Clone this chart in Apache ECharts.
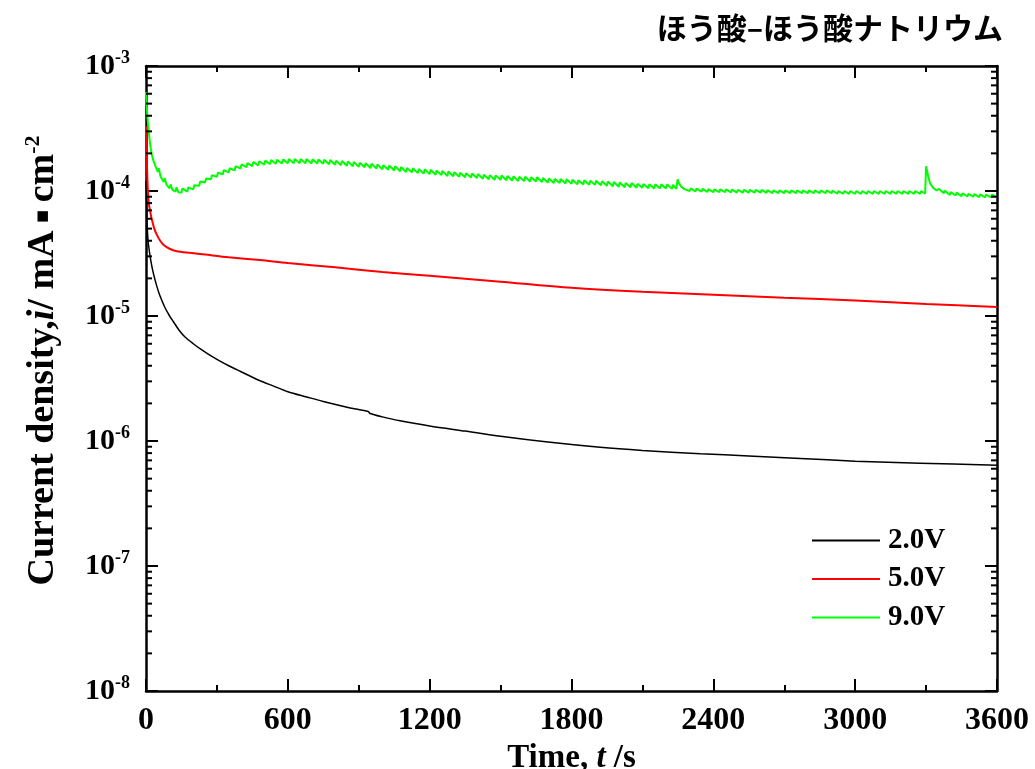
<!DOCTYPE html>
<html>
<head>
<meta charset="utf-8">
<script src="https://cdn.jsdelivr.net/npm/echarts@6/dist/echarts.min.js"></script>
<style>
html,body{margin:0;padding:0;background:#fff;}
#chart{width:1035px;height:769px;}
</style>
</head>
<body>
<div id="chart"></div>
<script>
// ---- data (time in s, current density in mA/cm^2) ----
const seriesNames = ['2.0V', '5.0V', '9.0V'];
const seriesColors = ['#000000', '#ff0000', '#00ff00'];

const black2V = [
  [0,1.2e-4],[2,8.5e-5],[5,5.2e-5],[10,3.8e-5],[20,2.8e-5],[31,2.2e-5],[45,1.75e-5],
  [59,1.45e-5],[80,1.17e-5],[100,1.0e-5],[116,9.0e-6],[140,7.7e-6],[165,6.8e-6],
  [200,6.0e-6],[230,5.45e-6],[260,5.0e-6],[300,4.5e-6],[350,4.0e-6],[400,3.6e-6],
  [480,3.05e-6],[540,2.75e-6],[600,2.48e-6],[680,2.25e-6],[750,2.07e-6],[864,1.84e-6],
  [940,1.72e-6],[948,1.66e-6],[1000,1.56e-6],[1075,1.45e-6],[1200,1.32e-6],
  [1350,1.2e-6],[1500,1.09e-6],[1700,9.8e-7],[1921,8.9e-7],[2100,8.4e-7],
  [2345,7.9e-7],[2550,7.6e-7],[2768,7.25e-7],[3000,6.9e-7],[3275,6.65e-7],[3600,6.4e-7]
];

const red5V = [
  [0,3.3e-4],[2,2.2e-4],[5,1.4e-4],[8,1.0e-4],[12,8.0e-5],[18,6.8e-5],[24,6.0e-5],
  [35,5.0e-5],[45,4.5e-5],[60,4.0e-5],[75,3.7e-5],[100,3.45e-5],[130,3.3e-5],
  [186,3.2e-5],[250,3.1e-5],[350,2.95e-5],[482,2.8e-5],[600,2.65e-5],[800,2.45e-5],
  [1000,2.25e-5],[1200,2.1e-5],[1500,1.88e-5],[1800,1.68e-5],[2100,1.56e-5],
  [2400,1.48e-5],[2700,1.4e-5],[3000,1.33e-5],[3300,1.25e-5],[3600,1.18e-5]
];

const green9V = [
  [0,6.2e-4],[3,4.8e-4],[6,3.9e-4],[10,3.2e-4],[15,2.6e-4],[20,2.2e-4],[25,1.95e-4],
  [30,1.78e-4],[40,1.58e-4],[50,1.42e-4],[54,1.52e-4],[62,1.30e-4],[75,1.18e-4],
  [79,1.27e-4],[87,1.12e-4],[100,1.05e-4],[104,1.13e-4],[112,1.02e-4],[125,9.9e-5],
  [129,1.07e-4],[137,9.75e-5],
  [150,9.7e-5],[154,1.05e-4],[175,9.9e-5],[179,1.07e-4],[200,1.03e-4],[204,1.11e-4],
  [225,1.10e-4],[229,1.19e-4],[250,1.17e-4],[254,1.26e-4],[275,1.24e-4],[279,1.34e-4],
  [300,1.30e-4],[304,1.40e-4],[325,1.36e-4],[329,1.47e-4],[350,1.41e-4],[354,1.52e-4],
  [375,1.46e-4],[379,1.58e-4],[400,1.51e-4],[404,1.63e-4],[425,1.55e-4],[429,1.67e-4],
  [450,1.58e-4],[454,1.71e-4],[475,1.60e-4],[479,1.73e-4],[500,1.62e-4],[504,1.75e-4],
  [525,1.64e-4],[529,1.77e-4],[550,1.65e-4],[554,1.78e-4],[575,1.66e-4],[579,1.79e-4],
  [600,1.67e-4],[604,1.80e-4],[625,1.67e-4],[629,1.80e-4],[650,1.67e-4],[654,1.80e-4],
  [675,1.67e-4],[679,1.80e-4],[700,1.66e-4],[704,1.79e-4],[725,1.66e-4],[729,1.79e-4],
  [750,1.65e-4],[754,1.78e-4],[775,1.64e-4],[779,1.77e-4],[800,1.62e-4],[804,1.75e-4],
  [825,1.61e-4],[829,1.74e-4],[850,1.59e-4],[854,1.72e-4],[875,1.58e-4],[879,1.71e-4],
  [900,1.56e-4],[904,1.68e-4],[925,1.55e-4],[929,1.67e-4],[950,1.53e-4],[954,1.65e-4],
  [975,1.51e-4],[979,1.63e-4],[1000,1.49e-4],[1004,1.61e-4],[1025,1.48e-4],[1029,1.60e-4],
  [1050,1.46e-4],[1054,1.58e-4],[1075,1.44e-4],[1079,1.56e-4],[1100,1.42e-4],[1104,1.53e-4],
  [1125,1.41e-4],[1129,1.52e-4],[1150,1.39e-4],[1154,1.50e-4],[1175,1.38e-4],[1179,1.49e-4],
  [1200,1.37e-4],[1204,1.48e-4],[1225,1.35e-4],[1229,1.46e-4],[1250,1.34e-4],[1254,1.45e-4],
  [1275,1.32e-4],[1279,1.43e-4],[1300,1.31e-4],[1304,1.41e-4],[1325,1.30e-4],[1329,1.40e-4],
  [1350,1.29e-4],[1354,1.39e-4],[1375,1.28e-4],[1379,1.38e-4],[1400,1.27e-4],[1404,1.37e-4],
  [1425,1.25e-4],[1429,1.35e-4],[1450,1.24e-4],[1454,1.34e-4],[1475,1.23e-4],[1479,1.33e-4],
  [1500,1.23e-4],[1504,1.33e-4],[1525,1.22e-4],[1529,1.32e-4],[1550,1.21e-4],[1554,1.31e-4],
  [1575,1.20e-4],[1579,1.30e-4],[1600,1.20e-4],[1604,1.30e-4],[1625,1.19e-4],[1629,1.29e-4],
  [1650,1.19e-4],[1654,1.29e-4],[1675,1.18e-4],[1679,1.27e-4],[1700,1.17e-4],[1704,1.26e-4],
  [1725,1.16e-4],[1729,1.25e-4],[1750,1.16e-4],[1754,1.25e-4],[1775,1.15e-4],[1779,1.24e-4],
  [1800,1.14e-4],[1804,1.23e-4],[1825,1.13e-4],[1829,1.22e-4],[1850,1.13e-4],[1854,1.22e-4],
  [1875,1.12e-4],[1879,1.21e-4],[1900,1.12e-4],[1904,1.21e-4],[1925,1.11e-4],[1929,1.20e-4],
  [1950,1.10e-4],[1954,1.19e-4],[1975,1.09e-4],[1979,1.18e-4],[2000,1.08e-4],[2004,1.17e-4],
  [2025,1.07e-4],[2029,1.16e-4],[2050,1.07e-4],[2054,1.16e-4],[2075,1.06e-4],[2079,1.14e-4],
  [2100,1.06e-4],[2104,1.14e-4],[2125,1.05e-4],[2129,1.13e-4],[2150,1.05e-4],[2154,1.13e-4],
  [2175,1.05e-4],[2179,1.13e-4],[2200,1.05e-4],[2204,1.13e-4],[2225,1.04e-4],[2229,1.12e-4],
  [2243,1.04e-4],[2249,1.24e-4],[2255,1.15e-4],[2265,1.08e-4],[2280,1.03e-4],
  [2300,1.00e-4],[2304,1.05e-4],[2325,9.95e-5],[2329,1.045e-4],[2350,9.9e-5],[2354,1.04e-4],
  [2375,9.85e-5],[2379,1.035e-4],[2400,9.8e-5],[2404,1.03e-4],[2425,9.8e-5],[2429,1.03e-4],
  [2450,9.8e-5],[2454,1.03e-4],[2475,9.75e-5],[2479,1.025e-4],[2500,9.7e-5],[2504,1.02e-4],
  [2525,9.7e-5],[2529,1.02e-4],[2550,9.7e-5],[2554,1.02e-4],[2575,9.7e-5],[2579,1.02e-4],
  [2600,9.7e-5],[2604,1.02e-4],[2625,9.65e-5],[2629,1.015e-4],[2650,9.6e-5],[2654,1.01e-4],
  [2675,9.6e-5],[2679,1.01e-4],[2700,9.6e-5],[2704,1.01e-4],[2725,9.6e-5],[2729,1.01e-4],
  [2750,9.6e-5],[2754,1.01e-4],[2775,9.6e-5],[2779,1.01e-4],[2800,9.6e-5],[2804,1.01e-4],
  [2825,9.6e-5],[2829,1.01e-4],[2850,9.6e-5],[2854,1.01e-4],[2875,9.6e-5],[2879,1.01e-4],
  [2900,9.6e-5],[2904,1.01e-4],[2925,9.5e-5],[2929,1.0e-4],[2950,9.5e-5],[2954,1.0e-4],
  [2975,9.5e-5],[2979,1.0e-4],[3000,9.5e-5],[3004,1.0e-4],[3025,9.5e-5],[3029,1.0e-4],
  [3050,9.5e-5],[3054,1.0e-4],[3075,9.5e-5],[3079,1.0e-4],[3100,9.5e-5],[3104,1.0e-4],
  [3125,9.5e-5],[3129,1.0e-4],[3150,9.5e-5],[3154,1.0e-4],[3175,9.5e-5],[3179,1.0e-4],
  [3200,9.5e-5],[3204,1.0e-4],[3225,9.5e-5],[3229,1.0e-4],[3250,9.5e-5],[3254,1.0e-4],
  [3275,9.5e-5],[3279,1.0e-4],[3296,9.5e-5],[3300,1.58e-4],[3304,1.45e-4],[3310,1.28e-4],
  [3318,1.14e-4],[3330,1.06e-4],[3345,1.01e-4],[3350,9.9e-5],[3354,1.04e-4],[3375,9.6e-5],
  [3379,1.01e-4],[3400,9.3e-5],[3404,9.8e-5],[3425,9.2e-5],[3429,9.7e-5],[3450,9.1e-5],
  [3454,9.6e-5],[3475,9.05e-5],[3479,9.5e-5],[3500,9.0e-5],[3504,9.45e-5],[3525,8.95e-5],
  [3529,9.4e-5],[3550,8.9e-5],[3554,9.35e-5],[3575,8.9e-5],[3579,9.35e-5],[3600,8.9e-5]
];

const xTickLabels = ['0', '600', '1200', '1800', '2400', '3000', '3600'];
const minorMultipliers = [2, 3, 4, 5, 6, 7, 8, 9];
const minorDecades = [1e-8, 1e-7, 1e-6, 1e-5, 1e-4];

// ---- chart ----
const serif = "'Liberation Serif', 'Times New Roman', serif";
const chart = echarts.init(document.getElementById('chart'), null, {renderer: 'canvas'});

const minorTickValues = [];
minorDecades.forEach(d => minorMultipliers.forEach(m => minorTickValues.push([0, m * d])));

function expLabel(v) {
  const e = Math.round(Math.log10(v));
  return '{b|10}{s|' + e + '}';
}

const option = {
  animation: false,
  backgroundColor: '#ffffff',
  title: {
    text: 'ほう酸–ほう酸ナトリウム',
    right: 27, top: 8,
    textStyle: {fontFamily: "'Noto Sans CJK JP', sans-serif", fontWeight: 'bold', fontSize: 30, color: '#000'}
  },
  grid: {left: 146, right: 38, top: 66, bottom: 78, outerBoundsMode: 'none', containLabel: false},
  legend: {
    orient: 'vertical', left: 812, top: 526, padding: 0,
    icon: 'rect', itemWidth: 68, itemHeight: 2,
    itemGap: 9.5,
    data: seriesNames,
    textStyle: {fontFamily: serif, fontWeight: 'bold', fontSize: 29, color: '#000', padding: [0, 0, 0, 3]}
  },
  xAxis: [{
    type: 'value', min: 0, max: 3600, interval: 600, position: 'bottom',
    name: '{b|Time, }{i|t}{b| /s}', nameLocation: 'middle', nameGap: 44,
    nameTextStyle: {rich: {
      b: {fontFamily: serif, fontWeight: 'bold', fontSize: 33, color: '#000'},
      i: {fontFamily: serif, fontWeight: 'bold', fontStyle: 'italic', fontSize: 33, color: '#000'}
    }},
    axisLine: {onZero: false, lineStyle: {color: '#000', width: 2.5}},
    axisTick: {inside: true, length: 12, lineStyle: {color: '#000', width: 2}},
    minorTick: {show: true, splitNumber: 2, length: 6, lineStyle: {color: '#000', width: 2}},
    splitLine: {show: false},
    axisLabel: {margin: 14, fontFamily: serif, fontWeight: 'bold', fontSize: 32, color: '#000',
      formatter: (v) => xTickLabels[Math.round(v / 600)]}
  }, {
    type: 'value', min: 0, max: 3600, interval: 600, position: 'top',
    axisLine: {onZero: false, lineStyle: {color: '#000', width: 2.5}},
    axisTick: {inside: true, length: 12, lineStyle: {color: '#000', width: 2}},
    minorTick: {show: true, splitNumber: 2, length: 6, lineStyle: {color: '#000', width: 2}},
    splitLine: {show: false},
    axisLabel: {show: false}
  }],
  yAxis: [{
    type: 'log', logBase: 10, min: 1e-8, max: 1e-3, position: 'left',
    name: '{b|Current density,}{i|i}{b|/ mA}{d|▪}{b|cm}{s|-2}',
    nameLocation: 'middle', nameRotate: 90, nameGap: 82,
    nameTextStyle: {padding: [0, 0, 0, 36], rich: {
      b: {fontFamily: serif, fontWeight: 'bold', fontSize: 38, color: '#000'},
      i: {fontFamily: serif, fontWeight: 'bold', fontStyle: 'italic', fontSize: 38, color: '#000'},
      d: {fontFamily: 'DejaVu Sans', fontWeight: 'bold', fontSize: 21, color: '#000', padding: [0, 7, 0, 7]},
      s: {fontFamily: serif, fontWeight: 'bold', fontSize: 22, color: '#000', verticalAlign: 'top', padding: [0, 0, 20, 0]}
    }},
    axisLine: {onZero: false, lineStyle: {color: '#000', width: 2.5}},
    axisTick: {inside: true, length: 12, lineStyle: {color: '#000', width: 2}},
    splitLine: {show: false},
    axisLabel: {margin: 16, formatter: expLabel, rich: {
      b: {fontFamily: serif, fontWeight: 'bold', fontSize: 30, color: '#000'},
      s: {fontFamily: serif, fontWeight: 'bold', fontSize: 18, color: '#000', verticalAlign: 'top', padding: [0, 0, 16, 0]}
    }}
  }, {
    type: 'log', logBase: 10, min: 1e-8, max: 1e-3, position: 'right',
    axisLine: {onZero: false, lineStyle: {color: '#000', width: 2.5}},
    axisTick: {inside: true, length: 12, lineStyle: {color: '#000', width: 2}},
    splitLine: {show: false},
    axisLabel: {show: false}
  }],
  series: [
    {name: seriesNames[0], type: 'line', data: black2V, symbol: 'none', smooth: 0.3,
      lineStyle: {color: seriesColors[0], width: 1.5}, itemStyle: {color: seriesColors[0]}},
    {name: seriesNames[1], type: 'line', data: red5V, symbol: 'none', smooth: 0.3,
      lineStyle: {color: seriesColors[1], width: 2}, itemStyle: {color: seriesColors[1]}},
    {name: seriesNames[2], type: 'line', data: green9V, symbol: 'none',
      lineStyle: {color: seriesColors[2], width: 2}, itemStyle: {color: seriesColors[2]}},
    {
      name: 'minorTicks', type: 'custom', silent: true, clip: false,
      data: minorTickValues, z: 5,
      renderItem: function (params, api) {
        const y = api.coord([0, api.value(1)])[1];
        const cs = params.coordSys;
        return {
          type: 'group',
          children: [
            {type: 'line', shape: {x1: cs.x, y1: y, x2: cs.x + 6, y2: y}, style: {stroke: '#000', lineWidth: 2}},
            {type: 'line', shape: {x1: cs.x + cs.width - 6, y1: y, x2: cs.x + cs.width, y2: y}, style: {stroke: '#000', lineWidth: 2}}
          ]
        };
      }
    }
  ]
};
chart.setOption(option);
</script>
</body>
</html>
